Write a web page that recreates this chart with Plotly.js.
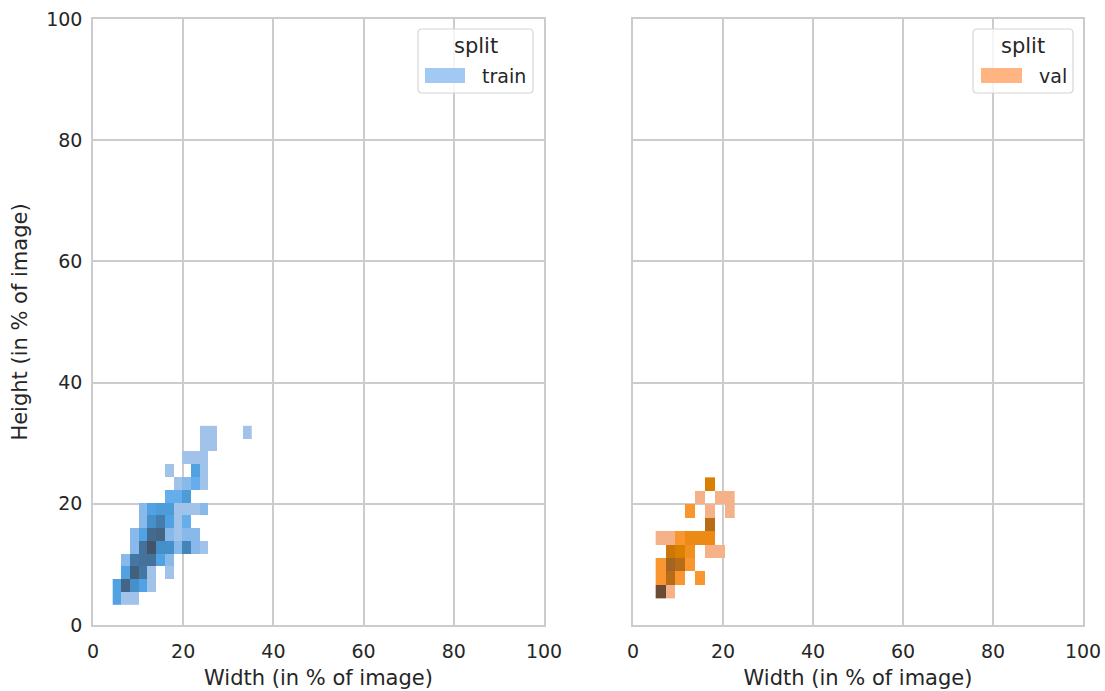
<!DOCTYPE html>
<html><head><meta charset="utf-8">
<script src="https://cdn.plot.ly/plotly-3.0.1.min.js"></script>
<style>html,body{margin:0;padding:0;background:#fff}#chart{width:1105px;height:691px}</style>
</head><body><div id="chart"></div>
<script>
// ---------------- data ----------------
const axisTicks = [0, 20, 40, 60, 80, 100];
const xTitle = "Width (in % of image)";
const yTitle = "Height (in % of image)";
const legendTitle = "split";
const splits = ["train", "val"];
const splitColors = ["#a1c9f4", "#ffb482"];

// train: bin edges (width, height in % of image) and counts per bin (rows = height bins bottom->top)
const trainXEdges = [4.37, 6.30, 8.22, 10.15, 12.08, 14.01, 15.93, 17.86, 19.79, 21.71, 23.64, 25.57, 27.49, 29.42, 31.35, 33.28, 35.20];
const trainYEdges = [3.30, 5.41, 7.52, 9.64, 11.75, 13.86, 15.97, 18.08, 20.20, 22.31, 24.42, 26.53, 28.64, 30.76, 32.87];
const trainCounts = [
  [7, 1, 1, 0, 0, 0, 0, 0, 0, 0, 0, 0, 0, 0, 0, 0],
  [7, 17, 10, 7, 1, 0, 0, 0, 0, 0, 0, 0, 0, 0, 0, 0],
  [0, 7, 18, 14, 1, 0, 1, 0, 0, 0, 0, 0, 0, 0, 0, 0],
  [0, 3, 14, 15, 15, 7, 3, 0, 0, 0, 0, 0, 0, 0, 0, 0],
  [0, 0, 3, 15, 20, 10, 10, 3, 12, 3, 1, 0, 0, 0, 0, 0],
  [0, 0, 3, 7, 16, 17, 3, 1, 3, 3, 0, 0, 0, 0, 0, 0],
  [0, 0, 0, 3, 10, 13, 7, 1, 5, 0, 0, 0, 0, 0, 0, 0],
  [0, 0, 0, 3, 7, 8, 8, 1, 1, 1, 3, 0, 0, 0, 0, 0],
  [0, 0, 0, 0, 0, 0, 5, 5, 8, 0, 0, 0, 0, 0, 0, 0],
  [0, 0, 0, 0, 0, 0, 0, 1, 3, 5, 1, 0, 0, 0, 0, 0],
  [0, 0, 0, 0, 0, 0, 1, 0, 0, 7, 1, 0, 0, 0, 0, 0],
  [0, 0, 0, 0, 0, 0, 0, 0, 1, 1, 1, 0, 0, 0, 0, 0],
  [0, 0, 0, 0, 0, 0, 0, 0, 0, 0, 1, 1, 0, 0, 0, 0],
  [0, 0, 0, 0, 0, 0, 0, 0, 0, 0, 1, 1, 0, 0, 0, 1]
];

// val
const valXEdges = [5.04, 7.24, 9.45, 11.65, 13.86, 16.06, 18.26, 20.47, 22.67];
const valYEdges = [4.40, 6.62, 8.84, 11.05, 13.27, 15.49, 17.71, 19.93, 22.14, 24.36];
const valCounts = [
  [20, 1, 0, 0, 0, 0, 0, 0],
  [4, 12, 4, 0, 4, 0, 0, 0],
  [4, 14, 12, 4, 0, 0, 0, 0],
  [0, 10, 8, 5, 0, 1, 1, 0],
  [1, 1, 4, 6, 6, 6, 0, 0],
  [0, 0, 0, 0, 0, 12, 0, 0],
  [0, 0, 0, 4, 0, 1, 0, 1],
  [0, 0, 0, 0, 1, 0, 1, 1],
  [0, 0, 0, 0, 0, 8, 0, 0]
];

// ---------------- husl colormap (seaborn style) ----------------
const M = [[3.2406, -1.5372, -0.4986], [-0.9689, 1.8758, 0.0415], [0.0557, -0.2040, 1.0570]];
const MINV = [[0.4124, 0.3576, 0.1805], [0.2126, 0.7152, 0.0722], [0.0193, 0.1192, 0.9505]];
const refY = 1.0, refU = 0.19784, refV = 0.46834, labE = 0.008856, labK = 903.3;
function maxChroma(L, H) {
  const hr = H * Math.PI / 180, s = Math.sin(hr), c = Math.cos(hr);
  const sub1 = Math.pow(L + 16, 3) / 1560896;
  const sub2 = sub1 > 0.008856 ? sub1 : L / 903.3;
  let res = Infinity;
  for (const row of M) {
    const [m1, m2, m3] = row;
    const top = (0.99915 * m1 + 1.05122 * m2 + 1.14460 * m3) * sub2;
    const rb = 0.86330 * m3 - 0.17266 * m2, lb = 0.12949 * m3 - 0.38848 * m1;
    const bottom = (rb * s + lb * c) * sub2;
    for (const t of [0, 1]) {
      const C = L * (top - 1.05122 * t) / (bottom + 0.17266 * s * t);
      if (C > 0 && C < res) res = C;
    }
  }
  return res;
}
function fInv(t) { return Math.pow(t, 3) > labE ? Math.pow(t, 3) : (116 * t - 16) / labK; }
function fwd(t) { return t > labE ? Math.pow(t, 1 / 3) : 7.787 * t + 16 / 116; }
function fromLinear(c) { return c <= 0.0031308 ? 12.92 * c : 1.055 * Math.pow(c, 1 / 2.4) - 0.055; }
function toLinear(c) { return c > 0.04045 ? Math.pow((c + 0.055) / 1.055, 2.4) : c / 12.92; }
function huslToRgb(H, S, L) {
  let C;
  if (L > 99.9999) { L = 100; C = 0; } else if (L < 1e-8) { return [0, 0, 0]; } else C = maxChroma(L, H) / 100 * S;
  const hr = H * Math.PI / 180, U = C * Math.cos(hr), V = C * Math.sin(hr);
  const varY = fInv((L + 16) / 116), varU = U / (13 * L) + refU, varV = V / (13 * L) + refV;
  const Y = varY * refY;
  const X = -(9 * Y * varU) / ((varU - 4) * varV - varU * varV);
  const Z = (9 * Y - 15 * varV * Y - varV * X) / (3 * varV);
  return M.map(r => fromLinear(r[0] * X + r[1] * Y + r[2] * Z));
}
function rgbToHusl(r, g, b) {
  const lin = [r, g, b].map(toLinear);
  const [X, Y, Z] = MINV.map(row => row[0] * lin[0] + row[1] * lin[1] + row[2] * lin[2]);
  const d = X + 15 * Y + 3 * Z;
  const varU = 4 * X / d, varV = 9 * Y / d;
  const L = 116 * fwd(Y / refY) - 16;
  const U = 13 * L * (varU - refU), V = 13 * L * (varV - refV);
  const C = Math.sqrt(U * U + V * V);
  let H = Math.atan2(V, U) * 180 / Math.PI; if (H < 0) H += 360;
  return [H, C / maxChroma(L, H) * 100, L];
}
function cmapFromColor(hex) {
  const r = parseInt(hex.slice(1, 3), 16) / 255, g = parseInt(hex.slice(3, 5), 16) / 255, b = parseInt(hex.slice(5, 7), 16) / 255;
  const [h, s] = rgbToHusl(r, g, b);
  const n = 256, N = Math.floor(1.15 * 256);
  const cols = [];
  for (let i = 0; i < n; i++) {
    const xx = -1 + 2 * i / (N - 1);
    const L = 35 + 45 * i / (n - 1);
    const rgb = huslToRgb(h, s * Math.cos(xx), L).map(v => Math.round(Math.min(1, Math.max(0, v)) * 255));
    cols.push('rgb(' + rgb.join(',') + ')');
  }
  cols.reverse();
  return cols.map((c, i) => [i / (n - 1), c]);
}

const vmax = Math.max(...trainCounts.flat(), ...valCounts.flat());
const mask = z => z.map(row => row.map(v => v > 0 ? v : null));

const traces = [
  { type: 'heatmap', x: trainXEdges, y: trainYEdges, z: mask(trainCounts), zmin: 0, zmax: vmax,
    colorscale: cmapFromColor(splitColors[0]), showscale: false, hoverinfo: 'skip', xaxis: 'x', yaxis: 'y', name: splits[0] },
  { type: 'heatmap', x: valXEdges, y: valYEdges, z: mask(valCounts), zmin: 0, zmax: vmax,
    colorscale: cmapFromColor(splitColors[1]), showscale: false, hoverinfo: 'skip', xaxis: 'x2', yaxis: 'y2', name: splits[1] }
];

// ---------------- layout ----------------
const W = 1105, H = 691, ML = 93, MR = 22, MT = 19, MB = 66;
const PW = W - ML - MR, PH = H - MT - MB;
const px = x => (x - ML) / PW, py = y => (H - MB - y) / PH;
const gridCol = '#cccccc', textCol = '#262626';
const baseAxis = {
  range: [0, 100], tickvals: axisTicks, ticktext: axisTicks.map(String), showgrid: true, gridcolor: gridCol, gridwidth: 1.8,
  showline: true, linecolor: gridCol, linewidth: 1.8, mirror: true, zeroline: false, ticks: '', fixedrange: true,
  tickfont: { size: 19, color: textCol }
};
function roundRect(x0, y0, x1, y1, r) {
  const rx = r / PW, ry = r / PH;
  const X0 = px(x0), X1 = px(x1), Y0 = py(y0), Y1 = py(y1);
  return `M${X0 + rx},${Y0} L${X1 - rx},${Y0} Q${X1},${Y0} ${X1},${Y0 - ry} L${X1},${Y1 + ry} Q${X1},${Y1} ${X1 - rx},${Y1} L${X0 + rx},${Y1} Q${X0},${Y1} ${X0},${Y1 + ry} L${X0},${Y0 - ry} Q${X0},${Y0} ${X0 + rx},${Y0} Z`;
}
const legends = [
  { box: [418, 29, 533, 93], patch: [425, 68, 465, 83], titleX: 475.5, labelX: 480 },
  { box: [973, 29, 1073, 93], patch: [981, 68, 1022, 83], titleX: 1023, labelX: 1037 }
];
const shapes = [], annotations = [];
legends.forEach((lg, i) => {
  shapes.push({ type: 'path', xref: 'paper', yref: 'paper', layer: 'above', path: roundRect(...lg.box, 4),
    fillcolor: 'rgba(255,255,255,0.8)', line: { color: '#d6d6d6', width: 1.2 } });
  shapes.push({ type: 'rect', xref: 'paper', yref: 'paper', layer: 'above',
    x0: px(lg.patch[0]), x1: px(lg.patch[2]), y0: py(lg.patch[3]), y1: py(lg.patch[1]),
    fillcolor: splitColors[i], line: { width: 0 } });
  annotations.push({ xref: 'paper', yref: 'paper', x: px(lg.titleX), y: py(46), text: legendTitle, showarrow: false,
    xanchor: 'center', yanchor: 'middle', font: { size: 21, color: textCol } });
  annotations.push({ xref: 'paper', yref: 'paper', x: px(lg.labelX), y: py(75.5), text: splits[i], showarrow: false,
    xanchor: 'left', yanchor: 'middle', font: { size: 19, color: textCol } });
});

const layout = {
  width: W, height: H, margin: { l: ML, r: MR, t: MT, b: MB, pad: 0 },
  paper_bgcolor: '#ffffff', plot_bgcolor: '#ffffff', showlegend: false,
  font: { family: 'DejaVu Sans', color: textCol, size: 19 },
  xaxis: Object.assign({}, baseAxis, { domain: [0, px(544)], anchor: 'y', ticklabelstandoff: 8,
    title: { text: xTitle, font: { size: 21, color: textCol }, standoff: 10 } }),
  xaxis2: Object.assign({}, baseAxis, { domain: [px(633), 1], anchor: 'y2', ticklabelstandoff: 8,
    title: { text: xTitle, font: { size: 21, color: textCol }, standoff: 10 } }),
  yaxis: Object.assign({}, baseAxis, { domain: [0, 1], anchor: 'x', ticklabelstandoff: 5,
    title: { text: yTitle, font: { size: 21, color: textCol }, standoff: 13 } }),
  yaxis2: Object.assign({}, baseAxis, { domain: [0, 1], anchor: 'x2', matches: 'y', showticklabels: false }),
  shapes: shapes, annotations: annotations
};

Plotly.newPlot('chart', traces, layout, { staticPlot: true, displayModeBar: false });
</script>
</body></html>
